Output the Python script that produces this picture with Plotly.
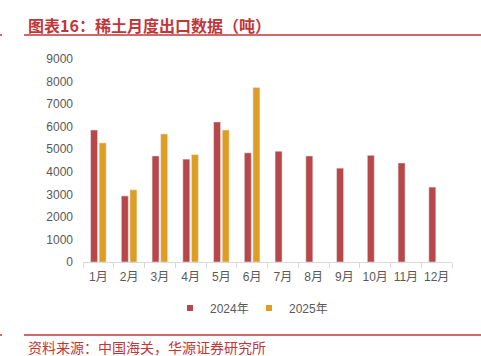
import plotly.graph_objects as go

months = ["1月", "2月", "3月", "4月", "5月", "6月", "7月", "8月", "9月", "10月", "11月", "12月"]
exports_2024 = [5850, 2930, 4700, 4560, 6210, 4840, 4910, 4700, 4160, 4730, 4390, 3320]
exports_2025 = [5280, 3200, 5680, 4760, 5850, 7740, None, None, None, None, None, None]
series_names = ["2024年", "2025年"]
y_ticks = [0, 1000, 2000, 3000, 4000, 5000, 6000, 7000, 8000, 9000]

RED = "#B8474A"
GOLD = "#DE9E24"
TXT = "#595959"
ACCENT = "#C0373A"

W, H = 481, 356
L, R, T, B = 83, 29, 59, 94
PW, PH = W - L - R, H - T - B

def px(x):
    return (x - L) / PW

def py(y):
    return (H - B - y) / PH

fig = go.Figure()
fig.add_trace(go.Bar(x=months, y=exports_2024, name=series_names[0], marker_color=RED,
                     showlegend=False))
fig.add_trace(go.Bar(x=months, y=exports_2025, name=series_names[1], marker_color=GOLD,
                     showlegend=False))
# legend entries with small square markers
for nm, col in zip(series_names, [RED, GOLD]):
    fig.add_trace(go.Scatter(x=[None], y=[None], mode="markers", name=nm,
                             marker=dict(symbol="square", size=6, color=col)))

font_main = "Liberation Sans, Noto Sans CJK SC, sans-serif"

fig.update_layout(
    width=W, height=H,
    margin=dict(l=L, r=R, t=T, b=B),
    paper_bgcolor="white", plot_bgcolor="white",
    barmode="group", bargap=0.44, bargroupgap=0.19,
    font=dict(family=font_main, size=12, color=TXT),
    showlegend=True,
    legend=dict(orientation="h", x=px(170), xanchor="left", y=py(308), yanchor="middle",
                font=dict(size=12, color=TXT), itemwidth=30, tracegroupgap=0,
                entrywidth=34, entrywidthmode="pixels",
                bgcolor="rgba(0,0,0,0)"),
    xaxis=dict(type="category", showline=True, linecolor="#D9D9D9", linewidth=1,
               ticks="outside", tickson="boundaries", ticklen=5, tickcolor="#D9D9D9",
               showgrid=False, tickfont=dict(size=12, color=TXT), ticklabelstandoff=4,
               tickangle=0),
    yaxis=dict(range=[0, 9000], tickvals=y_ticks, showgrid=False, showline=False,
               zeroline=False, tickfont=dict(size=12, color=TXT), ticklabelstandoff=9),
)

title_text = "图表16：稀土月度出口数据（吨）"
source_text = "资料来源：中国海关，华源证券研究所"

fig.add_annotation(text="<b>" + title_text + "</b>", xref="paper", yref="paper",
                   x=px(26), y=py(25), xanchor="left", yanchor="middle", showarrow=False,
                   font=dict(family="Noto Sans CJK SC", size=16, color=ACCENT))
fig.add_annotation(text=source_text, xref="paper", yref="paper",
                   x=px(26), y=py(346.5), xanchor="left", yanchor="middle", showarrow=False,
                   font=dict(family="Noto Sans CJK SC", size=14, color=ACCENT))

for yy in (35, 335):
    fig.add_shape(type="line", xref="paper", yref="paper", x0=px(24), x1=px(481),
                  y0=py(yy), y1=py(yy), line=dict(color=ACCENT, width=1.5))
    fig.add_shape(type="line", xref="paper", yref="paper", x0=px(0), x1=px(2),
                  y0=py(yy), y1=py(yy), line=dict(color=ACCENT, width=1.5))

fig.write_html("out.html", config={"displayModeBar": False},
               post_script="document.body.style.margin='0';document.body.style.overflow='hidden';")
